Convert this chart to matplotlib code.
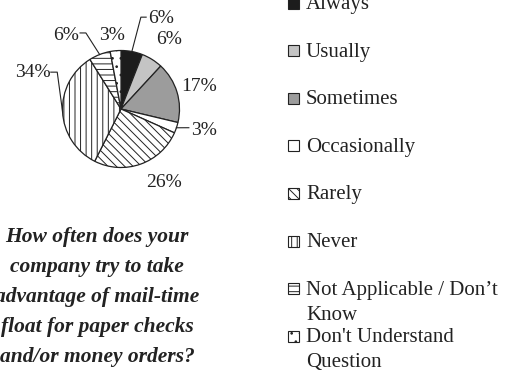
import matplotlib.pyplot as plt
from matplotlib.patches import Rectangle
import numpy as np

plt.rcParams['font.family'] = 'Liberation Serif'
plt.rcParams['hatch.linewidth'] = 0.7

# Survey answers and their shares (%)
categories = ['Always', 'Usually', 'Sometimes', 'Occasionally', 'Rarely', 'Never',
              'Not Applicable / Don\u2019t\nKnow', "Don't Understand\nQuestion"]
percents = [6, 6, 17, 3, 26, 34, 6, 3]
pct_labels = ['6%', '6%', '17%', '3%', '26%', '34%', '6%', '3%']

question = ('How often does your\ncompany try to take\nadvantage of mail-time\n'
            'float for paper checks\nand/or money orders?')

fills = ['#1c1c1c', '#c4c4c4', '#9c9c9c', 'white', 'white', 'white', 'white', 'white']
hatches = [None, None, None, None, '\\\\\\\\', '|||', '---', '..']
edge = '#222222'

# label positions in units of the pie radius
label_pos = [(0.68, 1.54), (0.82, 1.18), (1.33, 0.39), (1.42, -0.36),
             (0.74, -1.26), (-1.50, 0.63), (-0.94, 1.25), (-0.15, 1.26)]
# leader lines: points after the rim point at the wedge's middle
leaders = {0: [(0.34, 1.57), (0.43, 1.57)],
           3: [(1.16, -0.32)],
           5: [(-1.09, 0.63), (-1.20, 0.63)],
           6: [(-0.60, 1.30), (-0.70, 1.30)]}

W, H = 511, 375
fig = plt.figure(figsize=(W / 100, H / 100), dpi=100)

# pie centred at (121, 109) px, radius 58.5 px
cx, cy, r = 121, 109, 58.5
ax = fig.add_axes([(cx - r) / W, (H - cy - r) / H, 2 * r / W, 2 * r / H])
wedges, _ = ax.pie(percents, colors=fills, startangle=90, counterclock=False,
                   wedgeprops=dict(edgecolor=edge, linewidth=0.9))
for w, h in zip(wedges, hatches):
    if h:
        w.set_hatch(h)
ax.set_xlim(-1, 1)
ax.set_ylim(-1, 1)
ax.axis('off')

for i, (w, txt) in enumerate(zip(wedges, pct_labels)):
    x, y = label_pos[i]
    ax.text(x, y, txt, ha='center', va='center', fontsize=14, color='#222')
    if i in leaders:
        mid = np.deg2rad((w.theta1 + w.theta2) / 2)
        pts = [(np.cos(mid), np.sin(mid))] + leaders[i]
        ax.plot([p[0] for p in pts], [p[1] for p in pts], color=edge,
                lw=0.8, clip_on=False)

# overlay in pixel coordinates for the legend and the question text
lay = fig.add_axes([0, 0, 1, 1], zorder=-1)
lay.set_xlim(0, W)
lay.set_ylim(H, 0)
lay.axis('off')

row0, step = 3, 47.6
for i, name in enumerate(categories):
    yc = row0 + i * step
    lay.add_patch(Rectangle((288, yc - 5.5), 11, 11, facecolor=fills[i],
                            hatch=hatches[i], edgecolor=edge, lw=0.8))
    lay.text(306, yc - 8, name, ha='left', va='top', fontsize=15,
             color='#222', linespacing=1.45)

lay.text(97, 297, question, ha='center', va='center', fontsize=15.5,
         fontweight='bold', style='italic', color='#222', linespacing=1.67)

fig.savefig('out.png', dpi=100)
